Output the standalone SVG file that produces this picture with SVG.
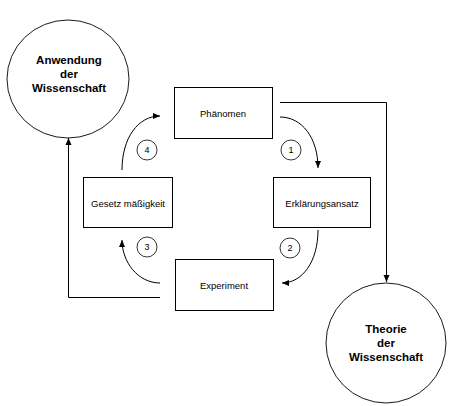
<svg xmlns="http://www.w3.org/2000/svg" width="455" height="406" viewBox="0 0 455 406">
<defs>
<style>
.box{fill:#fff;stroke:#000;stroke-width:1}
.big{fill:#fff;stroke:#000;stroke-width:0.9}
.num{fill:#fff;stroke:#000;stroke-width:0.8}
.bt{font-family:"Liberation Sans",Arial,sans-serif;font-size:9.5px;text-anchor:middle;fill:#000}
.nt{font-family:"Liberation Sans",Arial,sans-serif;font-size:9px;text-anchor:middle;fill:#000}
.ct{font-family:"Liberation Sans",Arial,sans-serif;font-size:11.5px;font-weight:bold;text-anchor:middle;fill:#000}
.con{fill:none;stroke:#000;stroke-width:1}
</style>
<marker id="ah" markerUnits="userSpaceOnUse" markerWidth="8" markerHeight="8" viewBox="0 0 8 8" refX="7" refY="4" orient="auto">
<path d="M0,1 L7,4 L0,7 Z" fill="#000"/>
</marker>
</defs>
<rect width="455" height="406" fill="#fff"/>
<g id="connectors">
<polyline class="con" points="280,102.5 386.5,102.5 386.5,282" marker-end="url(#ah)"/>
<polyline class="con" points="160,297.5 68.5,297.5 68.5,138" marker-end="url(#ah)"/>
<path class="con" d="M280,117 C302,117 318,138 318,168" marker-end="url(#ah)"/>
<path class="con" d="M318,230 C318,262 302,283 282,283" marker-end="url(#ah)"/>
<path class="con" d="M160,283 C138,283 122,262 122,240" marker-end="url(#ah)"/>
<path class="con" d="M122,170 C122,138 138,116 160,116" marker-end="url(#ah)"/>
</g>
<g id="anwendung">
<ellipse class="big" cx="68" cy="79" rx="61" ry="59"/>
<text class="ct" x="69" y="64">Anwendung</text>
<text class="ct" x="69" y="78">der</text>
<text class="ct" x="69" y="92">Wissenschaft</text>
</g>
<g id="theorie">
<circle class="big" cx="386" cy="343" r="60"/>
<text class="ct" x="386" y="333">Theorie</text>
<text class="ct" x="386" y="347">der</text>
<text class="ct" x="386" y="361">Wissenschaft</text>
</g>
<g id="phaenomen">
<rect class="box" x="174.5" y="87.5" width="98" height="51"/>
<text class="bt" x="223" y="117">Phänomen</text>
</g>
<g id="erklaerungsansatz">
<rect class="box" x="273.5" y="177.5" width="97" height="50"/>
<text class="bt" x="322" y="207">Erklärungsansatz</text>
</g>
<g id="gesetzmaessigkeit">
<rect class="box" x="83.5" y="177.5" width="89" height="50"/>
<text class="bt" x="128" y="207">Gesetz mäßigkeit</text>
</g>
<g id="experiment">
<rect class="box" x="175.5" y="259.5" width="98" height="51"/>
<text class="bt" x="224" y="289">Experiment</text>
</g>
<g id="n1">
<circle class="num" cx="291" cy="150" r="10"/>
<text class="nt" x="291" y="153">1</text>
</g>
<g id="n2">
<circle class="num" cx="290" cy="248" r="10"/>
<text class="nt" x="290" y="251">2</text>
</g>
<g id="n3">
<circle class="num" cx="147" cy="247" r="10"/>
<text class="nt" x="147" y="250">3</text>
</g>
<g id="n4">
<circle class="num" cx="147" cy="150" r="10"/>
<text class="nt" x="147" y="153">4</text>
</g>
</svg>
